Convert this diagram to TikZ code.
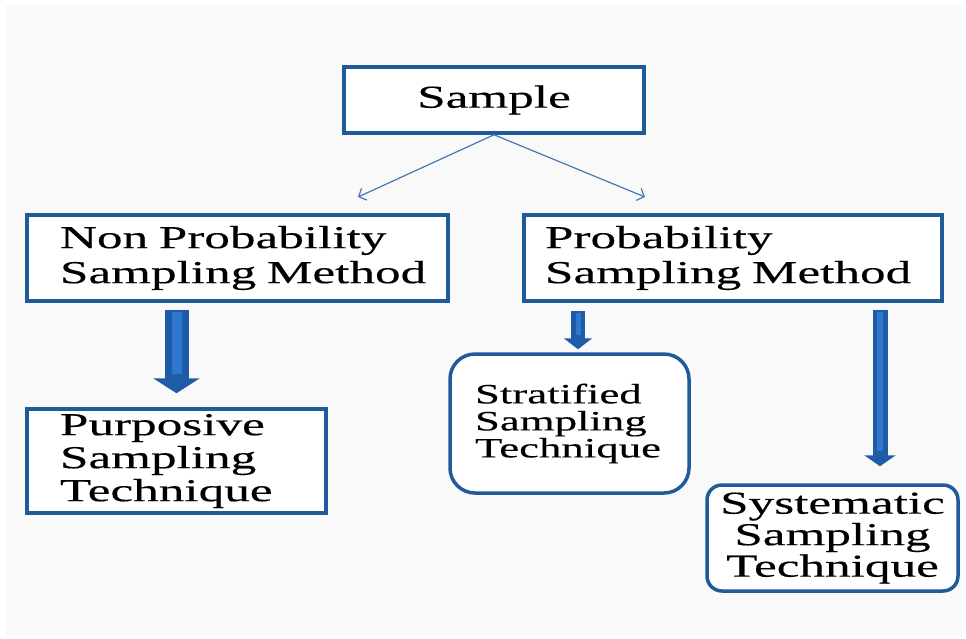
\documentclass[tikz,border=0pt]{standalone}
\usepackage{fontspec}
\setmainfont{Liberation Serif}[FakeStretch=1.6, FakeBold=0.3]
\usetikzlibrary{arrows.meta}

\definecolor{boxblue}{RGB}{31,90,155}
\definecolor{arrowblue}{RGB}{30,92,168}
\definecolor{arrowlight}{RGB}{45,120,205}
\definecolor{lineblue}{RGB}{70,120,180}
\definecolor{paper}{RGB}{249,249,249}

\tikzset{
    box/.style={draw=boxblue, line width=3.5pt, fill=white, inner ysep=0pt, align=left},
    bigtext/.style={font=\fontsize{32}{33}\selectfont},
    methodtext/.style={font=\fontsize{32}{35}\selectfont},
    blockarrow/.style n args={3}{arrowblue, line width=#1, -{Triangle[length=#2, width=#3]}},
    shine/.style={arrowlight, line width=#1, shorten >=2pt},
}

\begin{document}
\begin{tikzpicture}[x=1pt, y=-1pt]
    \useasboundingbox (0,0) rectangle (966,638);
    \fill[paper] (6,5) rectangle (962,636);
    % Top box
    \node[box, bigtext, align=center, minimum width=300, minimum height=66] (sample) at (494,100) {Sample};
    % Methods
    \node[box, methodtext, text width=355, inner xsep=33, minimum height=86] (nonprob) at (237.5,258) {Non~Probability\\Sampling~Method};
    \node[box, methodtext, text width=376, inner xsep=21, minimum height=86] (prob) at (733,258) {Probability\\Sampling~Method};
    % Techniques
    \node[box, bigtext, text width=233, inner xsep=33, minimum height=104] (purposive) at (176.5,461) {Purposive\\Sampling\\Technique};
    \node[box, rounded corners=25pt, font=\fontsize{28}{27}\selectfont, text width=189, inner xsep=25, minimum height=139] (stratified) at (569.5,423.5) {Stratified\\Sampling\\Technique};
    \node[box, align=center, rounded corners=15pt, font=\fontsize{32}{31.5}\selectfont, text width=235, inner xsep=8, minimum height=106] (systematic) at (832.5,538) {Systematic\\Sampling\\Technique};
    % Thin arrows
    \coordinate (leftend) at (358,197);
    \coordinate (rightend) at (645,197);
    \draw[lineblue, line width=1.2pt, -{Straight Barb[length=6pt, width=13pt]}] (sample.south) -- (leftend);
    \draw[lineblue, line width=1.2pt, -{Straight Barb[length=6pt, width=13pt]}] (sample.south) -- (rightend);
    % Block arrows
    \draw[blockarrow={24pt}{15pt}{46pt}] ([yshift=-7pt]nonprob.south -| purposive.north) -- ([yshift=14pt]purposive.north);
    \draw[shine=10pt] ([yshift=-9pt]nonprob.south -| purposive.north) -- ([yshift=31pt]purposive.north);
    \draw[blockarrow={14pt}{11pt}{28pt}] ([xshift=8.5pt, yshift=-8pt]prob.south -| stratified.north) -- ([xshift=8.5pt, yshift=3pt]stratified.north);
    \draw[shine=5pt] ([xshift=8.5pt, yshift=-10pt]prob.south -| stratified.north) -- ([xshift=8.5pt, yshift=15pt]stratified.north);
    \draw[blockarrow={15pt}{11pt}{31pt}] ([xshift=47.5pt, yshift=-7pt]prob.south -| systematic.north) -- ([xshift=47.5pt, yshift=17pt]systematic.north);
    \draw[shine=6pt] ([xshift=47.5pt, yshift=-9pt]prob.south -| systematic.north) -- ([xshift=47.5pt, yshift=30pt]systematic.north);
\end{tikzpicture}
\end{document}
